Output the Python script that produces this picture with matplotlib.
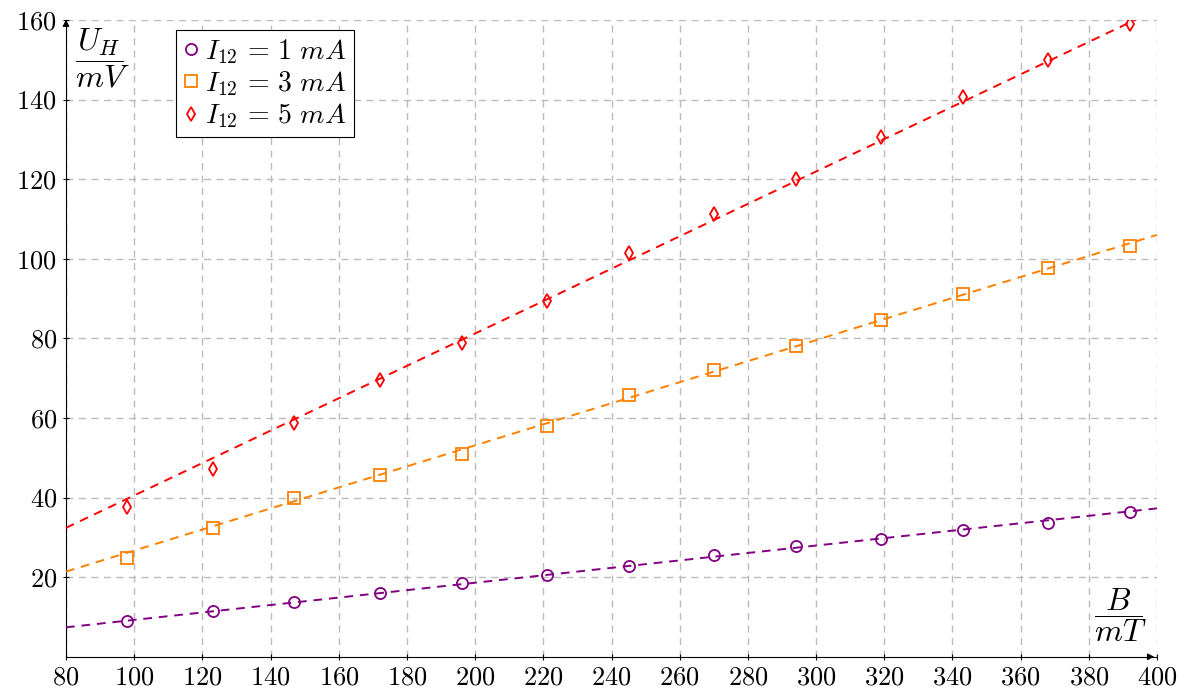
import matplotlib
matplotlib.use("Agg")
import matplotlib.pyplot as plt
import numpy as np

plt.rcParams['font.family'] = 'serif'
plt.rcParams['font.serif'] = ['cmr10']
plt.rcParams['mathtext.fontset'] = 'cm'
plt.rcParams['axes.formatter.use_mathtext'] = True

# B in mT
B = [98, 123, 147, 172, 196, 221, 245, 270, 294, 319, 343, 368, 392]
# U_H in mV for the three currents
U_1mA = [8.9, 11.5, 13.8, 16.0, 18.6, 20.6, 22.7, 25.7, 27.8, 29.6, 31.9, 33.6, 36.4]
U_3mA = [24.9, 32.4, 40.0, 45.7, 51.0, 58.0, 65.8, 72.1, 78.0, 84.6, 91.1, 97.7, 103.2]
U_5mA = [37.7, 47.2, 58.7, 69.5, 78.8, 89.5, 101.4, 111.2, 120.1, 130.7, 140.6, 150.0, 159.1]

# fitted lines U = k*B + d
fit_k = [0.0934, 0.2644, 0.407]
fit_d = [-0.07, 0.25, -0.16]

labels = [r'$I_{12}\,=\,1\ mA$', r'$I_{12}\,=\,3\ mA$', r'$I_{12}\,=\,5\ mA$']
colors = ['#800080', '#FF8000', '#FF0000']
markers = ['o', 's', 'd']

fig = plt.figure(figsize=(11.85, 6.97), dpi=100)
ax = fig.add_axes([0.0557, 0.0577, 0.9207, 0.9136])

xfit = np.array([80, 400])
for U, k, d, lab, c, m in zip([U_1mA, U_3mA, U_5mA], fit_k, fit_d, labels, colors, markers):
    ax.plot(xfit, k * xfit + d, color=c, lw=1.4, ls=(0, (4.5, 3.5)), zorder=3)
    ms = 7 if m == 'd' else 8
    ax.plot(B, U, ls='none', marker=m, ms=ms, mfc='none', mec=c, mew=1.3,
            label=lab, zorder=4)

ax.set_xlim(80, 400)
ax.set_ylim(0, 160)
ax.set_xticks(np.arange(80, 401, 20))
ax.set_yticks(np.arange(20, 161, 20))
ax.grid(True, color='#bbbbbb', ls=(0, (5, 4)), lw=1.0)
ax.set_axisbelow(True)
ax.tick_params(direction='inout', length=5, width=0.8, labelsize=19, pad=4)
ax.spines['top'].set_visible(False)
ax.spines['right'].set_visible(False)
ax.spines['left'].set_linewidth(0.8)
ax.spines['bottom'].set_linewidth(0.8)

# arrow heads on axes
ax.annotate('', xy=(1.0, 0), xytext=(0.99, 0), xycoords='axes fraction',
            arrowprops=dict(arrowstyle='-|>', color='black', lw=0.8,
                            mutation_scale=10), annotation_clip=False)
ax.annotate('', xy=(0, 1.005), xytext=(0, 0.99), xycoords='axes fraction',
            arrowprops=dict(arrowstyle='-|>', color='black', lw=0.8,
                            mutation_scale=10), annotation_clip=False)

ax.text(0.033, 0.94, r'$\dfrac{U_H}{mV}$', transform=ax.transAxes,
        fontsize=23, ha='center', va='center')
ax.text(0.966, 0.065, r'$\dfrac{B}{mT}$', transform=ax.transAxes,
        fontsize=23, ha='center', va='center')

leg = ax.legend(loc='upper left', bbox_to_anchor=(0.101, 0.984), fontsize=20,
                handlelength=0.6, handletextpad=0.2, borderpad=0.25,
                labelspacing=0.12, fancybox=False, framealpha=1,
                edgecolor='black', borderaxespad=0)
leg.get_frame().set_linewidth(0.8)

fig.savefig('out.png', dpi=100)
